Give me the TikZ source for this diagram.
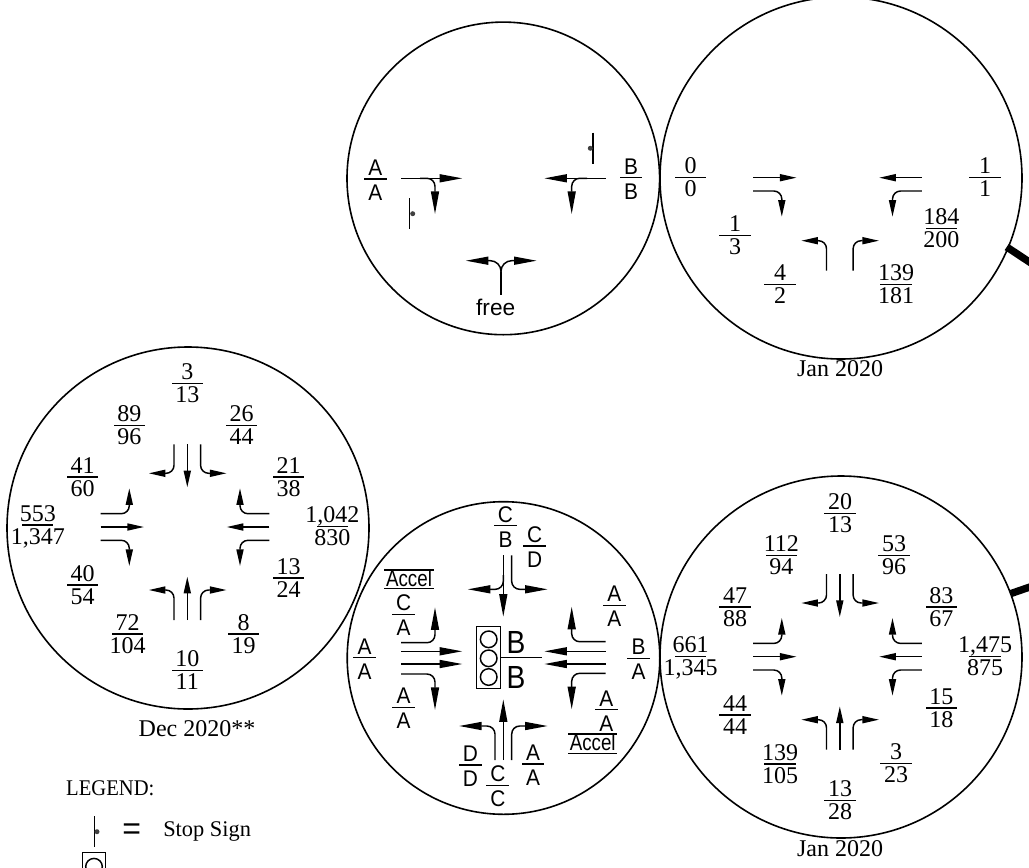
\documentclass[tikz,border=0pt]{standalone}
\usepackage{fontspec}
\setmainfont{Liberation Sans}
\newfontfamily\numfam{Liberation Serif}
\usetikzlibrary{arrows.meta}
\newcommand{\numfont}{\numfam\fontsize{18pt}{18pt}\selectfont}
\newcommand{\capfont}{\fontsize{17pt}{18pt}\selectfont}
\newcommand{\smallfont}{\numfam\fontsize{18pt}{18pt}\selectfont}
\newcommand{\legfont}{\numfam\fontsize{16.8pt}{18pt}\selectfont}
\tikzset{
  x=0.75pt,y=-0.75pt,
  ring/.style={line width=1.2pt},
  feeder/.style={line width=5.5pt,line cap=butt},
  arr/.style={line width=1.1pt,rounded corners=6pt,-{Triangle[length=12.5pt,width=5.3pt]}},
  bigarr/.style={line width=1.1pt,rounded corners=6pt,-{Triangle[length=17pt,width=6pt]}},
  stem/.style={line width=1.1pt},
  stopdot/.style={fill=black!75},
  rulebar/.style={fill=black,inner sep=0pt,minimum height=1.1pt,minimum width=23.3pt},
  letterbar/.style={fill=black,inner sep=0pt,minimum height=1.1pt,minimum width=17pt},
  numtxt/.style={inner sep=0pt,anchor=base,font=\numfont},
  lettxt/.style={inner sep=0pt,anchor=base,xscale=.92,font=\capfont},
  captxt/.style={inner sep=0pt,anchor=base,font=\smallfont},
  legtxt/.style={inner sep=0pt,anchor=base west,font=\legfont},
}
% numeric fraction: name, x, y, top, bottom
\newcommand{\numfr}[5]{%
  \node[rulebar] (#1) at (#2,#3) {};
  \node[numtxt] (#1t) at (#2,#3-4) {#4};
  \node[numtxt] (#1b) at (#2,#3+19) {#5};
}
% letter fraction: name, x, y, top, bottom
\newcommand{\letfr}[5]{%
  \node[letterbar] (#1) at (#2,#3) {};
  \node[lettxt] (#1t) at (#2,#3-3.5) {#4};
  \node[lettxt] (#1b) at (#2,#3+21.5) {#5};
}
\newcommand{\stopsign}[6]{% line x,y1,y2, dot x,y
  \draw[stem] (#1,#2) -- (#1,#3);
  \fill[stopdot] (#4,#5) circle[radius=2.5];
}
\newcommand{\Wleft}{\draw[arr] (-84.3,-13.3) -- (-55.7,-13.3) -- (-55.7,-38.7);}
\newcommand{\Wthru}{\draw[arr] (-84.3,0) -- (-41,0);}
\newcommand{\Wright}{\draw[arr] (-84.3,13.3) -- (-55.7,13.3) -- (-55.7,39);}
\newcommand{\Eleft}{\draw[arr] (84.3,-13.3) -- (55,-13.3) -- (55,-38.7);}
\newcommand{\Ethru}{\draw[arr] (84.3,0) -- (41.7,0);}
\newcommand{\Eright}{\draw[arr] (84.3,13.3) -- (55,13.3) -- (55,39);}
\newcommand{\Nleft}{\draw[arr] (-11,-82.7) -- (-11,-53.7) -- (-36.2,-53.7);}
\newcommand{\Nthru}{\draw[arr] (2.3,-82.7) -- (2.3,-39.7);}
\newcommand{\Nright}{\draw[arr] (15.6,-82.7) -- (15.6,-53.7) -- (41.5,-53.7);}
\newcommand{\Sleft}{\draw[arr] (-11,93) -- (-11,63) -- (-36.2,63);}
\newcommand{\Sthru}{\draw[arr] (2.3,93) -- (2.3,49.7);}
\newcommand{\Sright}{\draw[arr] (15.6,93) -- (15.6,63) -- (41.5,63);}
\newcommand{\fullcross}{\Wleft\Wthru\Wright\Eleft\Ethru\Eright\Nleft\Nthru\Nright\Sleft\Sthru\Sright}
\begin{document}
\begin{tikzpicture}
\path[use as bounding box] (0,0) rectangle (1029,868);
\clip (0,0) rectangle (1029,868);
% feeder stubs
\draw[feeder] (1006.7,247) -- (1040,269);
\draw[feeder] (1011,593.5) -- (1040,583.5);
% circles
\draw[ring] (503.3,178.4) circle[radius=156.3];
\draw[ring] (841,178) circle[radius=181];
\draw[ring] (188,528) circle[radius=181];
\draw[ring] (503.5,658) circle[radius=156.3];
\draw[ring] (841,657) circle[radius=181];

% ---- top middle: stop control
\draw[bigarr] (401,178.3) -- (462.3,178.3);
\draw[bigarr] (420,178.3) -- (435,178.3) -- (435,214);
\draw[bigarr] (605.7,178.3) -- (544.3,178.3);
\draw[bigarr] (587,178.3) -- (571.7,178.3) -- (571.7,214);
\draw[stem] (501,294.7) -- (501,272);
\draw[bigarr,rounded corners=8pt] (501,276) -- (501,260.7) -- (465.7,260.7);
\draw[bigarr,rounded corners=8pt] (501,276) -- (501,260.7) -- (536.7,260.7);
\stopsign{409.7}{198.3}{229.3}{412.7}{213.7}{}
\stopsign{593}{132.7}{164}{590.3}{148.3}{}
\letfr{ta}{375.3}{179}{A}{A}
\letfr{tb}{631}{177.7}{B}{B}
\node[inner sep=0pt,anchor=base,font=\fontsize{17pt}{18pt}\selectfont] (free) at (495.7,315) {free};

% ---- top right
\begin{scope}[shift={(837.5,177.7)}]
\Wthru\Wright\Ethru\Eright\Sleft\Sright
\end{scope}
\numfr{a1}{690.7}{177.7}{0}{0}
\numfr{a2}{985}{177.7}{1}{1}
\numfr{a3}{735}{235.7}{1}{3}
\numfr{a4}{941.3}{228.7}{184}{200}
\numfr{a5}{780}{284.7}{4}{2}
\numfr{a6}{896}{284.7}{139}{181}
\node[captxt] (jan1) at (840,376.7) {Jan 2020};

% ---- middle left
\begin{scope}[shift={(185,527)}]
\fullcross
\end{scope}
\numfr{b1}{187.3}{383.7}{3}{13}
\numfr{b2}{129.3}{425.7}{89}{96}
\numfr{b3}{241.7}{425.7}{26}{44}
\numfr{b4}{288.7}{477}{21}{38}
\numfr{b5}{82.7}{477}{41}{60}
\numfr{b6}{37.8}{525}{553}{1,347}
\numfr{b7}{332.3}{526.7}{1,042}{830}
\numfr{b8}{82.7}{585}{40}{54}
\numfr{b9}{288.7}{578}{13}{24}
\numfr{b10}{127.7}{634}{72}{104}
\numfr{b11}{243.7}{634}{8}{19}
\numfr{b12}{187.3}{670.7}{10}{11}
\node[captxt] (dec) at (197,736) {Dec 2020**};

% ---- bottom middle: signal
\draw[bigarr] (401,642.7) -- (435,642.7) -- (435,607.3);
\draw[bigarr] (401,651.3) -- (462.3,651.3);
\draw[bigarr] (401,664) -- (462.3,664);
\draw[bigarr] (401,674) -- (435,674) -- (435,710);
\draw[bigarr] (605.7,641.7) -- (571.7,641.7) -- (571.7,606.7);
\draw[bigarr] (605.7,651.3) -- (544.3,651.3);
\draw[bigarr] (605.7,664) -- (544.3,664);
\draw[bigarr] (605.7,673.3) -- (571.7,673.3) -- (571.7,709.3);
\draw[bigarr] (503.3,555.3) -- (503.3,616.7);
\draw[bigarr] (503.3,575) -- (503.3,589.3) -- (467.7,589.3);
\draw[bigarr] (511.7,555.3) -- (511.7,589.3) -- (547.7,589.3);
\draw[bigarr] (503.3,760) -- (503.3,699.3);
\draw[bigarr] (495,760) -- (495,726) -- (459,726);
\draw[bigarr] (511.7,760) -- (511.7,726) -- (547.7,726);
\draw[stem] (476.7,626.7) rectangle (500.3,688.7);
\draw[stem] (488.7,639.3) circle[radius=8.3];
\draw[stem] (488.7,658.3) circle[radius=8.3];
\draw[stem] (488.7,677) circle[radius=8.3];
\draw[stem] (500.3,657.7) -- (541.7,657.7);
\node[inner sep=0pt,anchor=base,xscale=.88,font=\fontsize{24pt}{24pt}\selectfont] (bigb1) at (516,653.3) {B};
\node[inner sep=0pt,anchor=base,xscale=.88,font=\fontsize{24pt}{24pt}\selectfont] (bigb2) at (516,688.3) {B};
\letfr{c1}{505.5}{525.7}{C}{B}
\letfr{c2}{534.7}{546}{C}{D}
\letfr{c3}{403.7}{614.3}{C}{A}
\letfr{c4}{364.5}{657.7}{A}{A}
\letfr{c5}{403.7}{707.3}{A}{A}
\letfr{c6}{614.2}{605.3}{A}{A}
\letfr{c7}{638.5}{658.3}{B}{A}
\letfr{c8}{606.2}{709.7}{A}{A}
\letfr{c9}{470.3}{765}{D}{D}
\letfr{c10}{497.8}{785.3}{C}{C}
\letfr{c11}{533}{764}{A}{A}
\node[letterbar,minimum width=37pt] (acc1o) at (409,570) {};
\node[letterbar,minimum width=37pt] (acc1u) at (409,588.7) {};
\node[lettxt,xscale=.9] (acc1) at (409,586) {Accel};
\node[letterbar,minimum width=37pt] (acc2o) at (592.7,734) {};
\node[letterbar,minimum width=37pt] (acc2u) at (592.7,753.3) {};
\node[lettxt,xscale=.9] (acc2) at (592.7,750.5) {Accel};

% ---- bottom right
\begin{scope}[shift={(837.5,656.7)}]
\fullcross
\end{scope}
\numfr{d1}{840}{513.7}{20}{13}
\numfr{d2}{781.3}{555.7}{112}{94}
\numfr{d3}{894}{555.7}{53}{96}
\numfr{d4}{941.3}{607}{83}{67}
\numfr{d5}{735}{607}{47}{88}
\numfr{d6}{690.5}{656.7}{661}{1,345}
\numfr{d7}{985}{656.7}{1,475}{875}
\numfr{d8}{735}{715}{44}{44}
\numfr{d9}{941.3}{708}{15}{18}
\numfr{d10}{780}{764}{139}{105}
\numfr{d11}{896}{763.7}{3}{23}
\numfr{d12}{840}{800.7}{13}{28}
\node[captxt] (jan2) at (840,856.7) {Jan 2020};

% ---- legend
\node[legtxt,xscale=.92] (leg) at (66,795.7) {LEGEND:};
\stopsign{94.3}{816}{847.3}{97}{831.7}{}
\node[inner sep=0pt,anchor=base,font=\fontsize{24pt}{24pt}\selectfont] (eq) at (131.7,839) {=};
\node[legtxt] (stoptxt) at (163,836) {Stop Sign};
\draw[stem] (82.3,852.7) rectangle (105.7,880);
\draw[stem] (94,866.7) circle[radius=8.3];
\end{tikzpicture}
\end{document}
